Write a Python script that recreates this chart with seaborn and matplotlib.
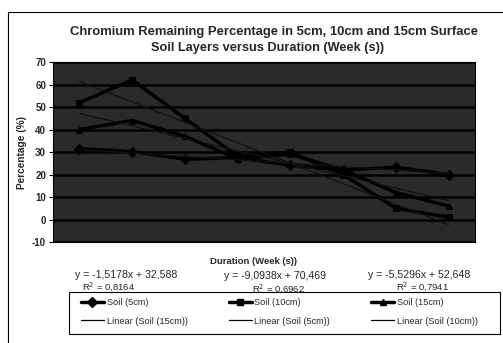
import numpy as np
import pandas as pd
import matplotlib
matplotlib.use("Agg")
import matplotlib.pyplot as plt
import seaborn as sns
from matplotlib.lines import Line2D
from matplotlib.patches import Rectangle

# ---- data (read/estimated from the picture) ----
weeks = [1, 2, 3, 4, 5, 6, 7, 8]
soil_5cm = [31.5, 30.2, 26.8, 27.5, 24.1, 22.0, 23.2, 20.0]
soil_10cm = [52.0, 62.0, 45.0, 28.0, 30.0, 20.0, 5.0, 1.0]
soil_15cm = [40.0, 44.0, 37.0, 27.0, 29.0, 22.0, 12.0, 6.0]
series_names = ["Soil (5cm)", "Soil (10cm)", "Soil (15cm)"]
trend_slopes = [-1.5178, -9.0938, -5.5296]
trend_intercepts = [32.588, 70.469, 52.648]
trend_labels = ["y = -1,5178x + 32,588", "y = -9,0938x + 70,469", "y = -5,5296x + 52,648"]
r2_labels = ["R$^2$ = 0,8164", "R$^2$ = 0,6962", "R$^2$ = 0,7941"]
y_ticks = [-10, 0, 10, 20, 30, 40, 50, 60, 70]

sns.set_theme(style="white")
plt.rcParams["font.family"] = ["Liberation Sans", "DejaVu Sans"]

W, H = 503, 343
fig = plt.figure(figsize=(W / 100, H / 100), dpi=100)
fig.patch.set_facecolor("white")

def fx(px):
    return px / W

def fy(py):
    return 1 - py / H

ax = fig.add_axes([fx(53), fy(242), (475 - 53) / W, (242 - 62) / H])
ax.set_facecolor("#2a2a2a")

df = pd.DataFrame({"week": weeks * 3,
                   "value": soil_5cm + soil_10cm + soil_15cm,
                   "series": sum([[n] * len(weeks) for n in series_names], [])})

markers = {"Soil (5cm)": "D", "Soil (10cm)": "s", "Soil (15cm)": "^"}
sns.lineplot(data=df, x="week", y="value", hue="series", style="series",
             markers=markers, dashes=False,
             palette={n: "black" for n in series_names},
             linewidth=2.5, markersize=5, markeredgecolor="black",
             ax=ax, legend=False)

# trendlines from the printed coefficients
tr_rows = []
for n, m, b in zip(series_names, trend_slopes, trend_intercepts):
    for w in weeks:
        tr_rows.append({"week": w, "value": m * w + b, "series": n})
tdf = pd.DataFrame(tr_rows)
sns.lineplot(data=tdf, x="week", y="value", hue="series",
             palette={n: "#111111" for n in series_names},
             linewidth=0.9, ax=ax, legend=False)

ax.set_xlim(0.5, 8.5)
ax.set_ylim(-10, 70)
ax.set_yticks(y_ticks)
ax.set_yticklabels([str(t) for t in y_ticks], fontsize=7, fontweight="bold")
ax.set_xticks([])
ax.tick_params(axis="y", length=3, width=0.8, color="black", pad=2, left=True)
ax.yaxis.grid(True, color="black", linewidth=1.8)
ax.set_axisbelow(True)
for s in ax.spines.values():
    s.set_color("black")
    s.set_linewidth(0.8)
ax.set_xlabel("")
ax.set_ylabel("")

# titles and labels
fig.text(fx(274), fy(32), "Chromium Remaining Percentage in 5cm, 10cm and 15cm Surface",
         ha="center", va="center", fontsize=9.4, fontweight="bold")
fig.text(fx(268), fy(48), "Soil Layers versus Duration (Week (s))",
         ha="center", va="center", fontsize=9.2, fontweight="bold")
fig.text(fx(22), fy(153), "Percentage (%)", rotation=90,
         ha="center", va="center", fontsize=7.3, fontweight="bold")
fig.text(fx(254), fy(261), "Duration (Week (s))",
         ha="center", va="center", fontsize=6.8, fontweight="bold")

eq_x = [126, 275, 419]
r2_x = [108, 278, 422]
eq_y = [275, 276, 275]
r2_y = [287, 289, 287]
for i in range(3):
    fig.text(fx(eq_x[i]), fy(eq_y[i]), trend_labels[i], ha="center", va="center", fontsize=7.6)
    fig.text(fx(r2_x[i]), fy(r2_y[i]), r2_labels[i], ha="center", va="center", fontsize=6.8)

# legend (column-major order to get row-wise appearance)
h_data = [Line2D([], [], color="black", lw=2.5, marker=markers[n], markersize=5) for n in series_names]
h_tr = [Line2D([], [], color="black", lw=0.9) for n in series_names]
handles = [h_data[0], h_tr[2], h_data[1], h_tr[0], h_data[2], h_tr[1]]
labels = ["Soil (5cm)", "Linear (Soil (15cm))", "Soil (10cm)",
          "Linear (Soil (5cm))", "Soil (15cm)", "Linear (Soil (10cm))"]
leg = fig.legend(handles, labels, loc="upper left", ncol=3,
                 bbox_to_anchor=(fx(81), fy(298)),
                 fontsize=6.6, frameon=False,
                 handlelength=2.5, handletextpad=0.3, columnspacing=4.5,
                 labelspacing=1.05, borderpad=0.0, borderaxespad=0)

# legend box
fig.add_artist(Rectangle((fx(69), fy(334)), (500 - 69) / W, (334 - 292) / H,
                         transform=fig.transFigure, fill=False, edgecolor="black", lw=0.8))

# outer chart frame (top and left visible)
fig.add_artist(Line2D([fx(8), fx(503)], [fy(12), fy(12)], color="black", lw=0.8))
fig.add_artist(Line2D([fx(8), fx(8)], [fy(12), fy(343)], color="black", lw=0.8))

fig.savefig("out.png", dpi=100)
